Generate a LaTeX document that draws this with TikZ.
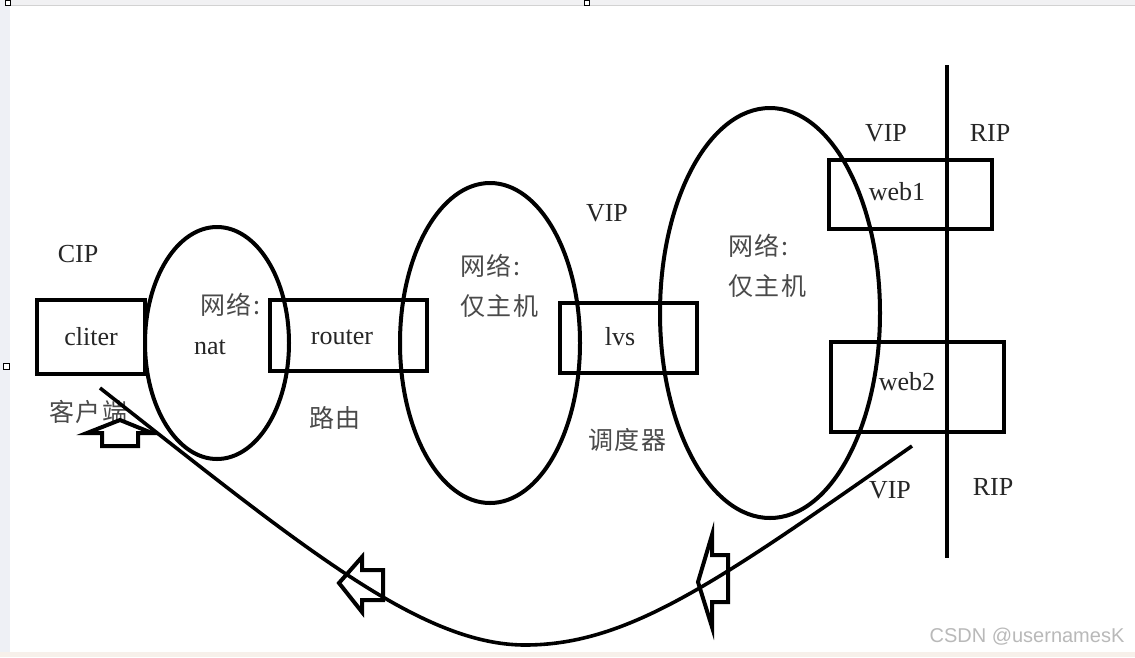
\documentclass[tikz,border=0pt]{standalone}
\usepackage{fontspec}
\setmainfont{Liberation Serif}
\newfontfamily\cjk[LetterSpace=6]{Noto Sans CJK SC}
\newfontfamily\wmfont{Liberation Sans}
\usetikzlibrary{shapes.geometric}
\definecolor{cjkgray}{HTML}{4A4A4A}
\definecolor{txtgray}{HTML}{262626}
\definecolor{barcol}{HTML}{F1F1F3}
\definecolor{stripcol}{HTML}{EEF0F5}
\definecolor{bottomcol}{HTML}{F7F0EA}
\begin{document}
\begin{tikzpicture}[x=1pt,y=-1pt,
  hostbox/.style={draw=black,line width=4.5pt,rectangle,inner sep=0pt,font=\fontsize{26}{30}\selectfont,text=txtgray},
  netoval/.style={draw=black,line width=4pt,ellipse,inner sep=0pt},
  lbl/.style={font=\fontsize{26}{30}\selectfont,text=txtgray,inner sep=0pt},
  cjklbl/.style={font=\cjk\fontsize{25}{40}\selectfont,text=cjkgray,inner sep=0pt,align=left},
  blockarrow/.style={draw=black,line width=4pt,line join=miter,fill=white},
  flow/.style={draw=black,line width=3.6pt}]
\useasboundingbox (0,0) rectangle (1135,657);
\fill[white] (0,0) rectangle (1135,657);
% window chrome
\fill[barcol] (0,0) rectangle (1135,5);
\draw[gray!35,line width=1pt] (0,5.5) -- (1135,5.5);
\fill[stripcol] (0,0) rectangle (10,657);
\fill[bottomcol] (0,652) rectangle (1135,657);
\draw[black,line width=1pt,fill=white] (5,0) rectangle (10,5);
\draw[black,line width=1pt,fill=white] (584,0) rectangle (589,5);
\draw[black,line width=1pt,fill=white] (3,363) rectangle (9,369);

% ellipses
\node[netoval,minimum width=144pt,minimum height=232pt] (natnet) at (217,343) {};
\node[netoval,minimum width=180pt,minimum height=320pt] (hostnet1) at (490,343) {};
\node[netoval,minimum width=220pt,minimum height=410pt] (hostnet2) at (770,313) {};

% vertical line
\coordinate (vtop) at (947,65);
\coordinate (vbot) at (947,558);
\draw[black,line width=4.5pt] (vtop) -- (vbot);

% boxes
\node[hostbox,minimum width=108pt,minimum height=74pt] (cliter) at (91,337) {cliter};
\node[hostbox,minimum width=157pt,minimum height=71pt] (router) at (348.5,335.5) {};
\node[lbl] (routertxt) at (342,337) {router};
\node[hostbox,minimum width=137pt,minimum height=70pt] (lvs) at (628.5,338) {};
\node[lbl] (lvstxt) at (620,337) {lvs};
\node[hostbox,minimum width=163pt,minimum height=69pt] (web1) at (910.5,194.5) {};
\node[lbl] (web1txt) at (897,192) {web1};
\node[hostbox,minimum width=173pt,minimum height=90pt] (web2) at (917.5,387) {};
\node[lbl] (web2txt) at (907,382) {web2};

% labels
\node[lbl] (cip) at (78,254) {CIP};
\node[cjklbl] (net1) at (230,305) {网络:};
\node[lbl] (nat) at (210,347) {nat};
\node[cjklbl] (luyou) at (335,418) {路由};
\node[cjklbl] (net2) at (499,286) {网络:\\仅主机};
\node[lbl] (vip1) at (607,213) {VIP};
\node[cjklbl] (ddq) at (627,440) {调度器};
\node[cjklbl] (net3) at (767,266) {网络:\\仅主机};
\node[lbl] (vip2) at (886,133) {VIP};
\node[lbl] (rip1) at (990,133) {RIP};
\node[lbl] (vip3) at (890,490) {VIP};
\node[lbl] (rip2) at (993,487) {RIP};
\node[cjklbl] (khd) at (88,412) {客户端};

% return flow curve
\coordinate (fstart) at (100,388);
\coordinate (fmid) at (525,645);
\coordinate (fend) at (912,446);
\draw[flow] (fstart) .. controls (300,545) and (420,645) .. (fmid)
  .. controls (630,645) and (720,580) .. (fend);

% block arrows
\draw[blockarrow] (120,420) -- (152,433) -- (138,433) -- (138,446) -- (102,446) -- (102,433) -- (87,433) -- cycle;
\draw[blockarrow,fill=none] (339,583) -- (362,557) -- (362,570) -- (383,570) -- (383,600) -- (362,600) -- (362,612) -- cycle;
\draw[blockarrow,fill=none] (698,582) -- (712,535) -- (712,555) -- (728,555) -- (728,602) -- (712,602) -- (712,627) -- cycle;

% watermark
\node[font=\wmfont\fontsize{20}{22}\selectfont,text=gray!55,inner sep=0pt] (wm) at (1027,637) {CSDN @usernamesK};
\end{tikzpicture}
\end{document}
